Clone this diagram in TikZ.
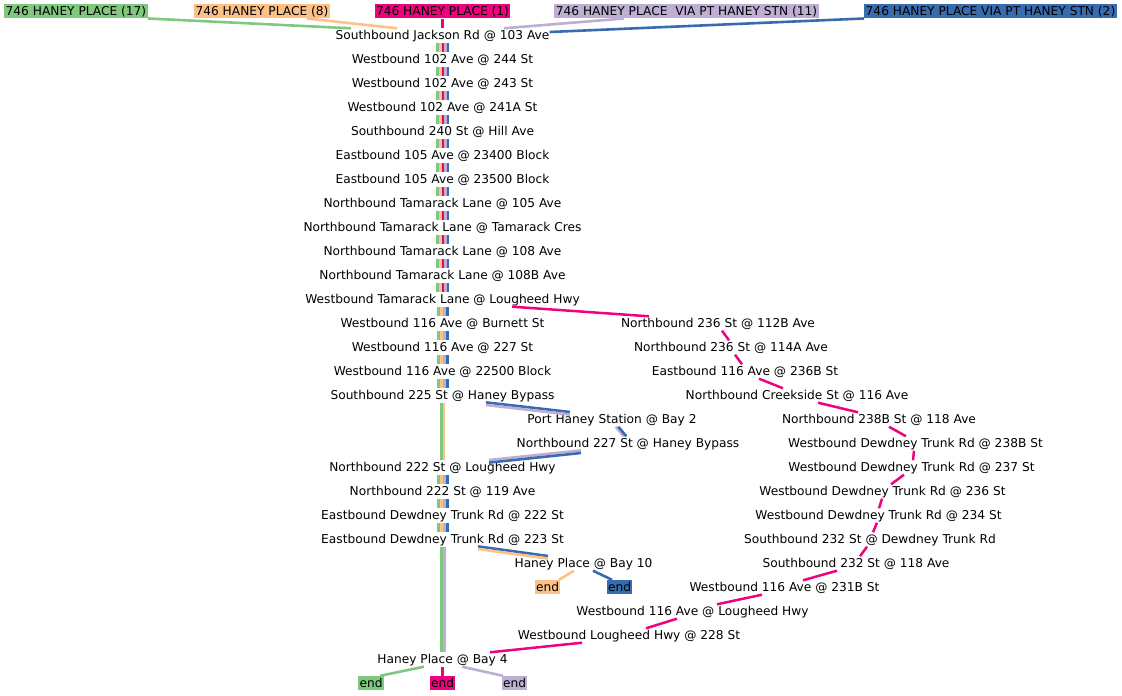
\documentclass[tikz,border=0pt]{standalone}
\usepackage{fontspec}
\setmainfont{DejaVu Sans}
\definecolor{accgreen}{HTML}{7FC97F}
\definecolor{accorange}{HTML}{FDC086}
\definecolor{accpink}{HTML}{F0027F}
\definecolor{accpurple}{HTML}{BEAED4}
\definecolor{accblue}{HTML}{386CB0}
\tikzset{
    stop/.style={font=\fontsize{12.2}{14}\selectfont, inner sep=0pt, text height=10.5pt, text depth=3.5pt, anchor=base},
    tag/.style={stop, fill=#1, inner xsep=1.5pt, text height=11pt, text depth=3.3pt},
    lane/.style={line width=2.6pt},
    widelane/.style={line width=2.95pt},
    hop/.style={line width=2.5pt, accpink}
}
\begin{document}
\begin{tikzpicture}[x=1pt, y=-1pt]
    \useasboundingbox (0,0) rectangle (1122,696);

    % Route heads
    \node[tag=accgreen] (r17) at (76,15) {746 HANEY PLACE (17)};
    \node[tag=accorange] (r8) at (262,15) {746 HANEY PLACE (8)};
    \node[tag=accpink] (r1) at (442.5,15) {746 HANEY PLACE (1)};
    \node[tag=accpurple] (r11) at (686.5,15) {746 HANEY PLACE\ \ VIA PT HANEY STN (11)};
    \node[tag=accblue] (r2) at (990.5,15) {746 HANEY PLACE VIA PT HANEY STN (2)};

    % Shared trunk
    \foreach \n/\t [count=\i from 0] in {
        jackson/Southbound Jackson Rd @ 103 Ave,
        w244/Westbound 102 Ave @ 244 St,
        w243/Westbound 102 Ave @ 243 St,
        w241a/Westbound 102 Ave @ 241A St,
        hill/Southbound 240 St @ Hill Ave,
        e23400/Eastbound 105 Ave @ 23400 Block,
        e23500/Eastbound 105 Ave @ 23500 Block,
        t105/Northbound Tamarack Lane @ 105 Ave,
        tcres/Northbound Tamarack Lane @ Tamarack Cres,
        t108/Northbound Tamarack Lane @ 108 Ave,
        t108b/Northbound Tamarack Lane @ 108B Ave,
        tlough/Westbound Tamarack Lane @ Lougheed Hwy,
        burnett/Westbound 116 Ave @ Burnett St,
        w227/Westbound 116 Ave @ 227 St,
        w22500/Westbound 116 Ave @ 22500 Block,
        s225/Southbound 225 St @ Haney Bypass}
        \node[stop] (\n) at (442.5,{39+24*\i}) {\t};

    \node[stop] (phs) at (612,423) {Port Haney Station @ Bay 2};
    \node[stop] (n227) at (628,447) {Northbound 227 St @ Haney Bypass};

    \foreach \n/\t [count=\i from 0] in {
        n222/Northbound 222 St @ Lougheed Hwy,
        n119/Northbound 222 St @ 119 Ave,
        e222/Eastbound Dewdney Trunk Rd @ 222 St,
        e223/Eastbound Dewdney Trunk Rd @ 223 St}
        \node[stop] (\n) at (442.5,{471+24*\i}) {\t};

    \node[stop] (bay10) at (583.5,567) {Haney Place @ Bay 10};
    \node[stop] (bay4) at (442.5,663) {Haney Place @ Bay 4};

    % Route 1 detour
    \foreach \n/\x/\t [count=\i from 0] in {
        r112b/718/Northbound 236 St @ 112B Ave,
        r114a/731/Northbound 236 St @ 114A Ave,
        e236b/745/Eastbound 116 Ave @ 236B St,
        creek/797/Northbound Creekside St @ 116 Ave,
        n238b/879/Northbound 238B St @ 118 Ave,
        d238b/915.5/Westbound Dewdney Trunk Rd @ 238B St,
        d237/911.5/Westbound Dewdney Trunk Rd @ 237 St,
        d236/882.5/Westbound Dewdney Trunk Rd @ 236 St,
        d234/878.5/Westbound Dewdney Trunk Rd @ 234 St,
        s232d/870/Southbound 232 St @ Dewdney Trunk Rd,
        s232/856/Southbound 232 St @ 118 Ave,
        w231b/784.5/Westbound 116 Ave @ 231B St,
        w116l/692.5/Westbound 116 Ave @ Lougheed Hwy,
        l228/629/Westbound Lougheed Hwy @ 228 St}
        \node[stop] (\n) at (\x,{327+24*\i}) {\t};

    % Ends
    \node[tag=accorange] (end8) at (547.5,591) {end};
    \node[tag=accblue] (end2) at (619.5,591) {end};
    \node[tag=accgreen] (end17) at (371,687) {end};
    \node[tag=accpink] (end1) at (442.5,687) {end};
    \node[tag=accpurple] (end11) at (514.5,687) {end};

    % Heads to first stop
    \draw[lane, accgreen] (r17.south east) -- ([xshift=-91.5pt]jackson.north);
    \draw[lane, accorange] ([xshift=45pt]r8.south) -- ([xshift=-45.5pt]jackson.north);
    \draw[lane, accpink] (r1.south) -- (jackson.north);
    \draw[lane, accpurple] ([xshift=-62.5pt]r11.south) -- ([xshift=61.5pt]jackson.north);
    \draw[lane, accblue] (r2.south west) -- ([yshift=3.5pt]jackson.east);

    % Bundles, all five routes
    \foreach \a/\b in {jackson/w244, w244/w243, w243/w241a, w241a/hill, hill/e23400,
        e23400/e23500, e23500/t105, t105/tcres, tcres/t108, t108/t108b, t108b/tlough}
        \foreach \c [count=\k] in {accgreen,accorange,accpink,accpurple,accblue}
            \draw[lane, \c] ([xshift={(\k-3)*2.6pt+0.3pt}]\a.south) -- ([xshift={(\k-3)*2.6pt+0.3pt}]\b.north);

    % Bundles, four routes
    \foreach \a/\b in {tlough/burnett, burnett/w227, w227/w22500, w22500/s225,
        n222/n119, n119/e222, e222/e223}
        \foreach \c [count=\k] in {accgreen,accorange,accpurple,accblue}
            \draw[widelane, \c] ([xshift={(\k-2.5)*2.9pt+0.5pt}]\a.south) -- ([xshift={(\k-2.5)*2.9pt+0.5pt}]\b.north);

    \draw[lane, accgreen] ([xshift=-1.1pt]s225.south) -- ([xshift=-1.1pt]n222.north);
    \draw[lane, accorange] ([xshift=1.5pt]s225.south) -- ([xshift=1.5pt]n222.north);
    \draw[widelane, accgreen] ([xshift=-1.2pt]e223.south) -- ([xshift=-1.2pt]bay4.north);
    \draw[widelane, accpurple] ([xshift=1.7pt]e223.south) -- ([xshift=1.7pt]bay4.north);

    % Via Port Haney Station
    \draw[lane, accblue] ([xshift=43.5pt,yshift=0.3pt]s225.south) -- ([xshift=-42pt,yshift=0.3pt]phs.north);
    \draw[lane, accpurple] ([xshift=43.5pt,yshift=-2.3pt]s225.south) -- ([xshift=-42pt,yshift=-2.3pt]phs.north);
    \draw[lane, accpurple] ([xshift=3.7pt]phs.south) -- ([xshift=-4.3pt]n227.north);
    \draw[lane, accblue] ([xshift=6.3pt]phs.south) -- ([xshift=-1.7pt]n227.north);
    \draw[lane, accpurple] ([xshift=-47pt,yshift=0.3pt]n227.south) -- ([xshift=46.5pt,yshift=0.3pt]n222.north);
    \draw[lane, accblue] ([xshift=-47pt,yshift=-2.3pt]n227.south) -- ([xshift=46.5pt,yshift=-2.3pt]n222.north);

    % To Bay 10
    \draw[lane, accblue] ([xshift=35.5pt,yshift=0.3pt]e223.south) -- ([xshift=-35.5pt,yshift=0.3pt]bay10.north);
    \draw[lane, accorange] ([xshift=35.5pt,yshift=-2.3pt]e223.south) -- ([xshift=-35.5pt,yshift=-2.3pt]bay10.north);

    % Route 1 detour
    \foreach \a/\p/\b/\q in {tlough/69.5/r112b/-69, r112b/4/r114a/-2, r114a/4/e236b/-3,
        e236b/14/creek/-14, creek/21/n238b/-21, n238b/10/d238b/-9.5, d238b/-1.5/d237/1.5,
        d237/-7.5/d236/8.5, d236/-0.5/d234/0.5, d234/-1.5/s232d/3, s232d/-3/s232/4,
        s232/-19/w231b/18.5, w231b/-22.5/w116l/24.5, w116l/-15.5/l228/17, l228/-47/bay4/47.5}
        \draw[hop] ([xshift=\p pt]\a.south) -- ([xshift=\q pt]\b.north);

    % Ends
    \draw[lane, accorange] ([xshift=-9.5pt]bay10.south) -- ([xshift=11.5pt]end8.north);
    \draw[lane, accblue] ([xshift=9.5pt]bay10.south) -- ([xshift=-7.5pt]end2.north);
    \draw[lane, accgreen] ([xshift=-18.5pt]bay4.south) -- ([xshift=9pt]end17.north);
    \draw[lane, accpink] (bay4.south) -- (end1.north);
    \draw[lane, accpurple] ([xshift=19.5pt]bay4.south) -- ([xshift=-11.5pt]end11.north);
\end{tikzpicture}
\end{document}
